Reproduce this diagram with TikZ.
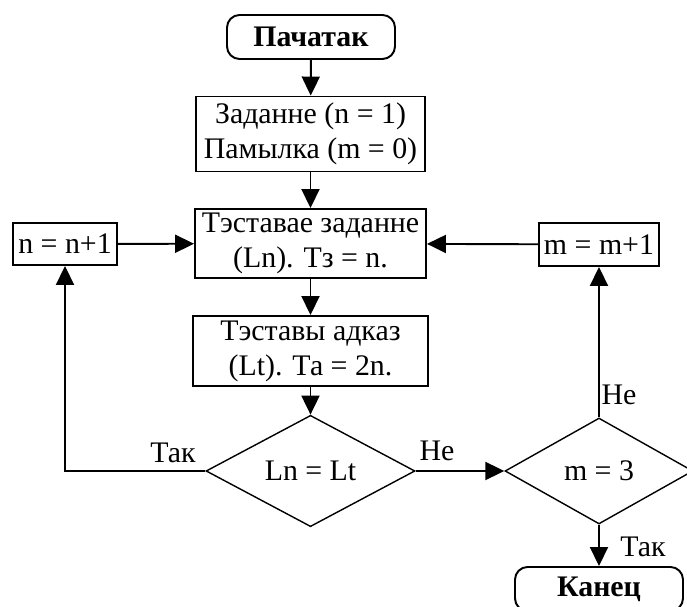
\documentclass[tikz,border=0pt]{standalone}
\usepackage{fontspec}
\setmainfont{Liberation Serif}
\usepackage{tikz}
\usetikzlibrary{positioning,shapes,calc}
\usetikzlibrary{arrows.meta}

\begin{document}
\begin{tikzpicture}[x=0.02cm, y=-0.02cm,
        font=\fontsize{17}{20}\selectfont,
        termnode/.style={rectangle, rounded corners=2.5mm, draw=black, line width=1.1pt, minimum width=3.36cm, minimum height=0.88cm, inner sep=0pt, font=\fontsize{17}{20}\selectfont\bfseries},
        boxnode/.style={rectangle, draw=black, line width=1.1pt, align=center, inner sep=0pt},
        decnode/.style={diamond, draw=black, line width=0.8pt, inner sep=0pt},
        labelnode/.style={inner sep=0pt},
        arr/.style={-{Triangle[length=3.8mm, width=3.6mm]}, line width=1.1pt},
    ]
    \useasboundingbox (0,0) rectangle (687,607);

    % Nodes
    \node[termnode] (start) at (311,37) {Пачатак};
    \node[boxnode, minimum width=4.58cm, minimum height=1.5cm] (task) at (310.5,134) {Заданне (n = 1)\\Памылка (m = 0)};
    \node[boxnode, minimum width=4.62cm, minimum height=1.38cm] (test) at (310.5,243.5) {Тэставае заданне\\(Ln). Тз = n.};

    \node[boxnode, minimum width=2.08cm, minimum height=0.84cm] (ninc) at (65,244) {n = n+1};
    \node[boxnode, minimum width=2.4cm, minimum height=0.86cm] (minc) at (599,244.5) {m = m+1};

    \node[boxnode, minimum width=4.7cm, minimum height=1.4cm] (answer) at (310.5,351) {Тэставы адказ\\(Lt). Та = 2n.};

    \node[decnode, minimum width=4.18cm, minimum height=1.9cm] (check) at (310.5,471) {Ln = Lt};
    \node[decnode, minimum width=3.76cm, minimum height=2.12cm] (limit) at (599,471) {m = 3};

    \node[termnode] (stop) at (599,589) {Канец};

    \node[labelnode] (yesA) at (173,453) {Так};
    \node[labelnode] (noA) at (437,451) {Не};
    \node[labelnode] (noB) at (619,395) {Не};
    \node[labelnode] (yesB) at (643,547) {Так};

    % Edges
    \draw[arr] (start) -- (task);
    \draw[arr] (task) -- (test);
    \draw[arr] (test) -- (answer);
    \draw[arr] (answer) -- (check);

    \draw[arr] (check.west) -| (ninc.south);
    \draw[arr] (ninc) -- (test);

    \draw[arr] (check.east) -- (limit.west);
    \draw[arr] (limit.north) -- (minc.south);
    \draw[arr] (minc) -- (test);

    \draw[arr] (limit.south) -- (stop.north);
\end{tikzpicture}
\end{document}
